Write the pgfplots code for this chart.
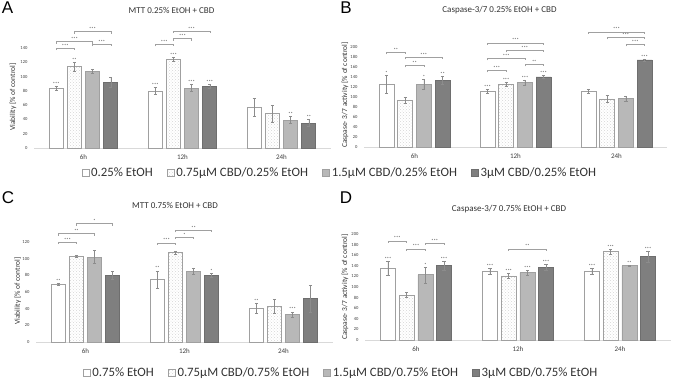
\documentclass[border=0pt]{standalone}
\usepackage{pgfplots}
\pgfplotsset{compat=1.18}
\usetikzlibrary{patterns}
\usepackage{fontspec}
\setmainfont{Carlito}
\newfontfamily\letterfont{Liberation Sans}
\definecolor{bord}{HTML}{A0A0A0}
\definecolor{lgray}{HTML}{B8B8B8}
\definecolor{dgray}{HTML}{7F7F7F}
\definecolor{dbord}{HTML}{6E6E6E}
\definecolor{base}{HTML}{D9D9D9}
\definecolor{ebar}{HTML}{8C8C8C}
\newcommand{\brk}[4]{%
  \draw[bord, line width=0.5pt] ([yshift=-2pt]axis cs:#1,#3) -- (axis cs:#1,#3) -- (axis cs:#2,#3) -- ([yshift=-2pt]axis cs:#2,#3);
  \path (axis cs:#1,#3) -- (axis cs:#2,#3) node[midway, above, inner sep=0.8pt, font=\fontsize{4.5}{4.5}\selectfont, text=black!85] {#4};}
\pgfplotsset{
 panel/.style={scale only axis, anchor=south west, enlargelimits=false,
   xmin=-0.5, xmax=2.5, ymin=0, axis lines*=left,
   y axis line style={draw=none}, x axis line style={draw=base, line width=0.8pt},
   tick style={draw=none}, xtick={0,1,2}, xticklabels={6h,12h,24h},
   xticklabel style={font=\fontsize{7}{8}\selectfont, text=black!75, yshift=-3pt},
   yticklabel style={font=\fontsize{4.6}{5}\selectfont, text=black!75, xshift=-3pt},
   /pgf/number format/assume math mode=true,
   ylabel style={font=\fontsize{7.5}{9}\selectfont, text=black!80, anchor=center},
   clip=false},
 errs/.style={/pgfplots/error bars/y dir=both, /pgfplots/error bars/y explicit,
   /pgfplots/error bars/error bar style={ebar, line width=0.5pt},
   /pgfplots/error bars/error mark options={ebar, rotate=90, mark size=1.6pt, line width=0.5pt}},
 lg/.style={legend image code/.code={\draw[##1, line width=0.6pt] (0pt,-3.5pt) rectangle (7pt,3.5pt);}},
 w/.style={ybar, bar shift=0pt, fill=white, draw=bord, line width=0.7pt, errs, lg},
 h/.style={ybar, bar shift=0pt, pattern=crosshatch dots, pattern color=gray!32, draw=bord, line width=0.7pt, errs, lg},
 l/.style={ybar, bar shift=0pt, fill=lgray, draw=bord, line width=0.7pt, errs, lg},
 d/.style={ybar, bar shift=0pt, fill=dgray, draw=dbord, line width=0.7pt, errs, lg},
 st/.style={only marks, mark=none, forget plot, nodes near coords,
   point meta=explicit symbolic,
   every node near coord/.append style={font=\fontsize{4.5}{4.5}\selectfont, inner sep=0.6pt, text=black!85, anchor=south}},
 leg/.style={legend style={draw=none, fill=none, legend columns=4,
   font=\fontsize{12.8}{14}\selectfont, text=black!80, anchor=center,
   /tikz/every even column/.append style={column sep=12pt}}, legend cell align=left},
}
\begin{document}
\begin{tikzpicture}
\useasboundingbox (0,0) rectangle (677pt,381pt);
% ---------------- A
\begin{axis}[panel, at={(34pt,233pt)}, width=297pt, height=100pt, ymax=140,
  bar width=14pt, ytick={0,20,...,140},
  ylabel={Viability [\% of control]},
  ylabel style={at={(axis description cs:-0.0707,0.51)}},
  leg, legend style={at={(axis description cs:1.030,-0.25)}}]
\addplot[w] coordinates {(-0.276,84) +- (0,3) (0.724,80) +- (0,5) (1.724,57) +- (0,13)};
\addplot[h] coordinates {(-0.092,114) +- (0,6) (0.908,124) +- (0,3) (1.908,48) +- (0,12)};
\addplot[l] coordinates {(0.092,107) +- (0,3) (1.092,84) +- (0,5) (2.092,39) +- (0,5)};
\addplot[d] coordinates {(0.276,92) +- (0,7) (1.276,86) +- (0,3) (2.276,35) +- (0,5)};
\legend{0.25\% EtOH, 0.75µM CBD/0.25\% EtOH, 1.5µM CBD/0.25\% EtOH, 3µM CBD/0.25\% EtOH}
\addplot[st] coordinates {(-0.276,87) [***] (0.724,85) [***]
  (-0.092,120) [**] (0.908,127) [***]
  (1.092,89) [***] (2.092,44) [**]
  (1.276,89) [***] (2.276,40) [**]};
\brk{-0.276}{-0.092}{140}{***}
\brk{-0.276}{0.092}{149}{***}
\brk{0.092}{0.276}{145}{***}
\brk{-0.092}{0.276}{163}{***}
\brk{0.724}{0.908}{145}{***}
\brk{0.908}{1.092}{153}{***}
\brk{0.908}{1.276}{163.5}{***}
\end{axis}
% ---------------- B
\begin{axis}[panel, at={(364pt,234pt)}, width=303pt, height=100pt, ymax=200,
  bar width=15pt, ytick={0,20,...,200},
  ylabel={Caspase- 3/7 activity [\% of control]},
  ylabel style={at={(axis description cs:-0.063,0.52)}}]
\addplot[w] coordinates {(-0.278,125) +- (0,18) (0.722,111) +- (0,4) (1.722,111) +- (0,4)};
\addplot[h] coordinates {(-0.093,94) +- (0,6) (0.907,125) +- (0,4) (1.907,96) +- (0,7)};
\addplot[l] coordinates {(0.093,125) +- (0,10) (1.093,129) +- (0,5) (2.093,97) +- (0,5)};
\addplot[d] coordinates {(0.278,133) +- (0,8) (1.278,140) +- (0,3) (2.278,174) +- (0,2)};
\addplot[st] coordinates {(-0.278,143) [*] (0.722,115) [***]
  (0.907,129) [***]
  (0.093,135) [*] (1.093,134) [***]
  (0.278,141) [**] (1.278,143) [***] (2.278,176) [***]};
\brk{-0.278}{-0.093}{189}{**}
\brk{-0.093}{0.093}{163}{**}
\brk{-0.093}{0.278}{179}{***}
\brk{0.722}{0.907}{153}{***}
\brk{0.722}{1.093}{177}{***}
\brk{1.093}{1.278}{165}{**}
\brk{0.907}{1.278}{193}{***}
\brk{0.722}{1.278}{208}{***}
\brk{1.722}{2.278}{230}{***}
\brk{1.907}{2.278}{219}{***}
\brk{2.093}{2.278}{205}{***}
\end{axis}
% ---------------- C
\begin{axis}[panel, at={(36pt,39pt)}, width=297pt, height=100pt, ymax=120,
  bar width=14pt, ytick={0,20,...,120},
  ylabel={Viability [\% of control]},
  ylabel style={at={(axis description cs:-0.061,0.51)}},
  leg, legend style={at={(axis description cs:1.027,-0.31)}}]
\addplot[w] coordinates {(-0.273,69) +- (0,1) (0.727,75) +- (0,10) (1.727,40) +- (0,6)};
\addplot[h] coordinates {(-0.091,103) +- (0,1) (0.909,107) +- (0,1.5) (1.909,43) +- (0,8)};
\addplot[l] coordinates {(0.091,102) +- (0,8) (1.091,85) +- (0,4) (2.091,33) +- (0,3)};
\addplot[d] coordinates {(0.273,80) +- (0,5) (1.273,80) +- (0,2) (2.273,52) +- (0,16)};
\legend{0.75\% EtOH, 0.75µM CBD/0.75\% EtOH, 1.5µM CBD/0.75\% EtOH, 3µM CBD/0.75\% EtOH}
\addplot[st] coordinates {(-0.273,71) [**] (0.727,86) [**] (1.727,46) [**]
  (2.091,37) [***] (1.273,82) [*]};
\brk{-0.273}{-0.091}{120}{***}
\brk{-0.273}{0.091}{130}{**}
\brk{-0.091}{0.273}{142}{*}
\brk{0.727}{0.909}{119}{***}
\brk{0.909}{1.091}{126}{*}
\brk{0.909}{1.273}{134}{**}
\end{axis}
% ---------------- D
\begin{axis}[panel, at={(365pt,41pt)}, width=306pt, height=106pt, ymax=200,
  bar width=15pt, ytick={0,20,...,200},
  ylabel={Caspase- 3/7 activity [\% of control]},
  ylabel style={at={(axis description cs:-0.065,0.5)}}]
\addplot[w] coordinates {(-0.275,136) +- (0,13) (0.725,130) +- (0,5) (1.725,130) +- (0,5)};
\addplot[h] coordinates {(-0.092,85) +- (0,5) (0.908,121) +- (0,5) (1.908,167) +- (0,5)};
\addplot[l] coordinates {(0.092,123) +- (0,15) (1.092,127) +- (0,5) (2.092,140) +- (0,1)};
\addplot[d] coordinates {(0.275,140) +- (0,9) (1.275,137) +- (0,6) (2.275,157) +- (0,11)};
\addplot[st] coordinates {(-0.275,149) [***] (0.725,135) [***] (1.725,135) [***]
  (0.908,126) [***] (1.908,172) [***]
  (0.092,138) [*] (1.092,132) [***] (2.092,141) [**]
  (0.275,149) [***] (1.275,143) [***] (2.275,168) [***]};
\brk{-0.275}{-0.092}{187}{***}
\brk{-0.092}{0.092}{172}{***}
\brk{0.092}{0.275}{183}{***}
\brk{0.908}{1.275}{172}{**}
\end{axis}
% titles and letters
\node[font=\fontsize{9}{10}\selectfont, text=black!80] at (171.5pt,371pt) {MTT 0.25\% EtOH + CBD};
\node[font=\fontsize{9}{10}\selectfont, text=black!80] at (499.5pt,371pt) {Caspase-3/7 0.25\% EtOH + CBD};
\node[font=\fontsize{9}{10}\selectfont, text=black!80] at (175pt,176pt) {MTT 0.75\% EtOH + CBD};
\node[font=\fontsize{9}{10}\selectfont, text=black!80] at (509pt,172pt) {Caspase-3/7 0.75\% EtOH + CBD};
\node[font=\letterfont\fontsize{17}{18}\selectfont, inner sep=0pt] at (7.5pt,373.5pt) {A};
\node[font=\letterfont\fontsize{17}{18}\selectfont, inner sep=0pt] at (346pt,373.5pt) {B};
\node[font=\letterfont\fontsize{17}{18}\selectfont, inner sep=0pt] at (8pt,183pt) {C};
\node[font=\letterfont\fontsize{17}{18}\selectfont, inner sep=0pt] at (346pt,183pt) {D};
\end{tikzpicture}
\end{document}
